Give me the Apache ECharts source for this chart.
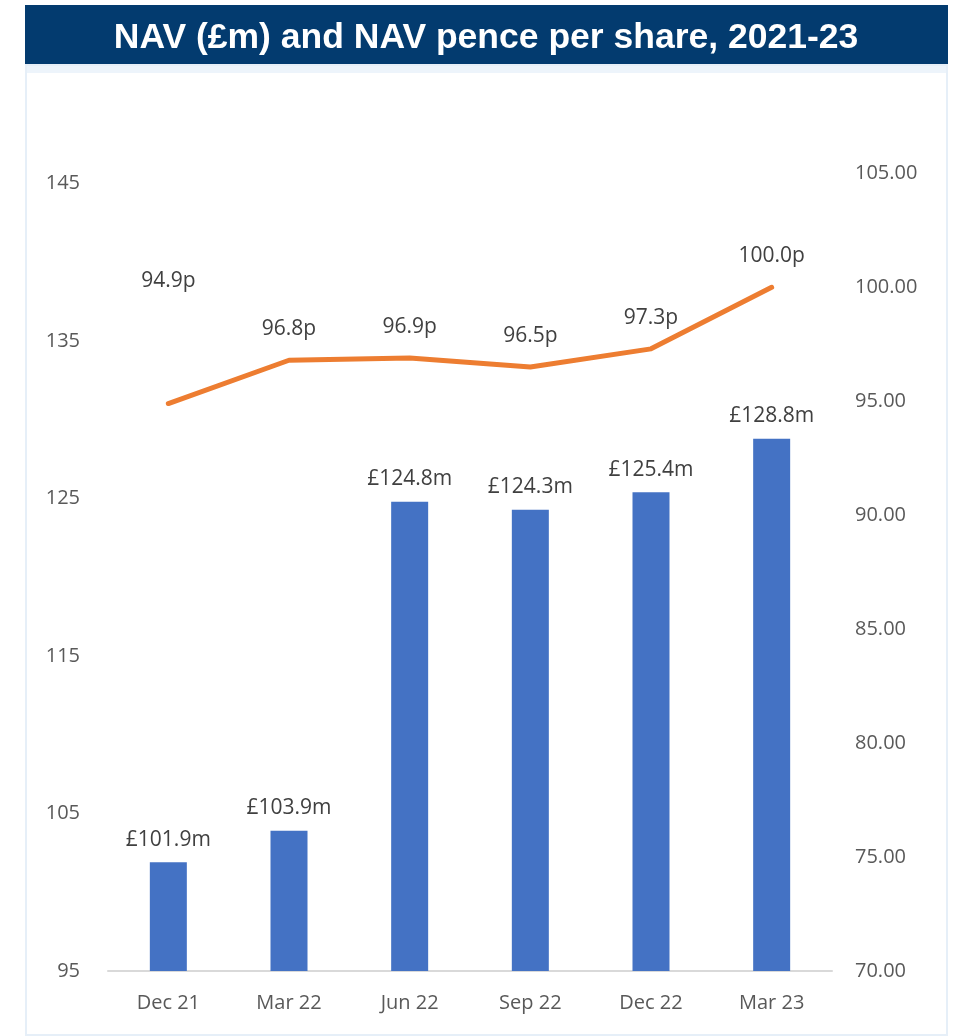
<!DOCTYPE html>
<html>
<head>
<meta charset="utf-8">
<script src="https://cdn.jsdelivr.net/npm/echarts@6/dist/echarts.min.js"></script>
<style>
html,body{margin:0;padding:0;background:#fff;}
#chart{width:956px;height:1036px;}
</style>
</head>
<body>
<div id="chart"></div>
<script>
var categories = ['Dec 21', 'Mar 22', 'Jun 22', 'Sep 22', 'Dec 22', 'Mar 23'];
var navMillions = [101.9, 103.9, 124.8, 124.3, 125.4, 128.8];
var navPence = [94.9, 96.8, 96.9, 96.5, 97.3, 100.0];
var titleText = 'NAV (£m) and NAV pence per share, 2021-23';

var FONT = '"Open Sans", "Liberation Sans", sans-serif';
var chart = echarts.init(document.getElementById('chart'), null, {renderer: 'canvas'});

var lineData = navPence.map(function (v, i) {
  return i === 0 ? {value: v, label: {distance: 112}} : v;
});

chart.setOption({
  animation: false,
  backgroundColor: '#ffffff',
  graphic: [
    {type: 'rect', shape: {x: 25, y: 5, width: 923, height: 60}, style: {fill: '#033b6f'}, z: 0},
    {type: 'rect', shape: {x: 25, y: 65, width: 923, height: 8}, style: {fill: '#edf4fb'}, z: 0},
    {type: 'rect', shape: {x: 26, y: 65, width: 921, height: 970}, style: {fill: 'none', stroke: '#e6eff8', lineWidth: 2}, z: 0},
    {type: 'text', x: 486, y: 38, style: {text: titleText, fill: '#ffffff', font: 'bold 35.5px "Liberation Sans", Arial, sans-serif', textAlign: 'center', textVerticalAlign: 'middle'}, z: 10}
  ],
  grid: {left: 108, right: 124, top: 105, bottom: 65},
  xAxis: {
    type: 'category',
    data: categories,
    axisLine: {lineStyle: {color: '#d9d9d9', width: 2}},
    axisTick: {show: false},
    axisLabel: {color: '#595959', fontSize: 20, fontFamily: FONT, margin: 22}
  },
  yAxis: [
    {
      type: 'value', min: 95, max: 150, interval: 10,
      axisLine: {show: false}, axisTick: {show: false}, splitLine: {show: false},
      axisLabel: {color: '#595959', fontSize: 20, fontFamily: FONT, margin: 28, showMaxLabel: false}
    },
    {
      type: 'value', min: 70, max: 108, interval: 5,
      axisLine: {show: false}, axisTick: {show: false}, splitLine: {show: false},
      axisLabel: {color: '#595959', fontSize: 20, fontFamily: FONT, margin: 23, showMaxLabel: false,
        formatter: function (v) { return v.toFixed(2); }}
    }
  ],
  series: [
    {
      type: 'bar', yAxisIndex: 0, data: navMillions, barWidth: 37,
      itemStyle: {color: '#4472c4'},
      label: {show: true, position: 'top', distance: 12, color: '#404040', fontSize: 21, fontFamily: FONT,
        formatter: function (p) { return '£' + p.value.toFixed(1) + 'm'; }}
    },
    {
      type: 'line', yAxisIndex: 1, data: lineData,
      symbol: 'circle', symbolSize: 1, showSymbol: true,
      itemStyle: {color: '#ed7d31'},
      lineStyle: {color: '#ed7d31', width: 5, cap: 'round', join: 'round'},
      label: {show: true, position: 'top', distance: 20, color: '#404040', fontSize: 21, fontFamily: FONT,
        formatter: function (p) { return p.value.toFixed(1) + 'p'; }},
      z: 3
    }
  ]
});
</script>
</body>
</html>
